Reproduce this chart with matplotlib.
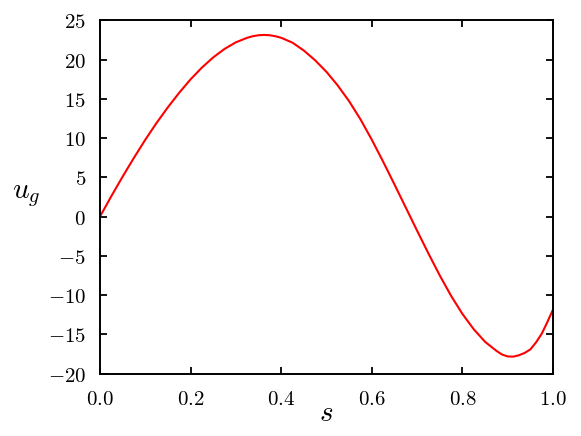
import matplotlib
matplotlib.use("Agg")
import matplotlib.pyplot as plt
from matplotlib.ticker import FuncFormatter, MultipleLocator

# values (denser near the turning points)
s_vals = [0.0, 0.025, 0.05, 0.075, 0.1, 0.125, 0.15, 0.175, 0.2, 0.225,
          0.25, 0.275, 0.3, 0.325, 0.3375, 0.35, 0.3625, 0.375, 0.3875, 0.4,
          0.425, 0.45, 0.475, 0.5, 0.525, 0.55, 0.575, 0.6, 0.625, 0.65,
          0.675, 0.7, 0.725, 0.75, 0.775, 0.8, 0.825, 0.85, 0.875, 0.8875,
          0.9, 0.9125, 0.925, 0.9375, 0.95, 0.9625, 0.975, 0.9875, 1.0]
ug_vals = [0.0, 2.6, 5.1, 7.5, 9.8, 11.95, 13.95, 15.8, 17.5, 19.0,
           20.3, 21.38, 22.22, 22.8, 23.0, 23.12, 23.16, 23.12, 22.99, 22.8,
           22.17, 21.17, 19.92, 18.45, 16.7, 14.7, 12.4, 9.8, 7.0, 4.1,
           1.15, -1.8, -4.7, -7.5, -10.1, -12.4, -14.35, -15.95, -17.1, -17.57,
           -17.81, -17.83, -17.65, -17.35, -16.9, -16.0, -14.9, -13.4, -11.8]

plt.rcParams["mathtext.fontset"] = "cm"

fig = plt.figure(figsize=(5.81, 4.36), dpi=100)
ax = fig.add_axes([0.172, 0.143, 0.78, 0.81])

ax.plot(s_vals, ug_vals, color="red", linewidth=1.5, solid_joinstyle="round")

ax.set_xlim(0, 1)
ax.set_ylim(-20, 25)
ax.xaxis.set_major_locator(MultipleLocator(0.2))
ax.yaxis.set_major_locator(MultipleLocator(5))
ax.xaxis.set_major_formatter(FuncFormatter(lambda v, p: r"$%.1f$" % v))
ax.yaxis.set_major_formatter(FuncFormatter(lambda v, p: r"$%d$" % round(v)))

ax.tick_params(direction="in", length=5, width=1.3, top=True, right=True,
               labelsize=15)
ax.tick_params(axis="x", pad=11)
ax.tick_params(axis="y", pad=10)
for sp in ax.spines.values():
    sp.set_linewidth(1.4)

ax.set_xlabel(r"$s$", fontsize=21, labelpad=-7)
ax.set_ylabel(r"$u_g$", fontsize=21, rotation=0, va="center", ha="center")
ax.yaxis.set_label_coords(-0.163, 0.506)

fig.savefig("out.png", dpi=100)
